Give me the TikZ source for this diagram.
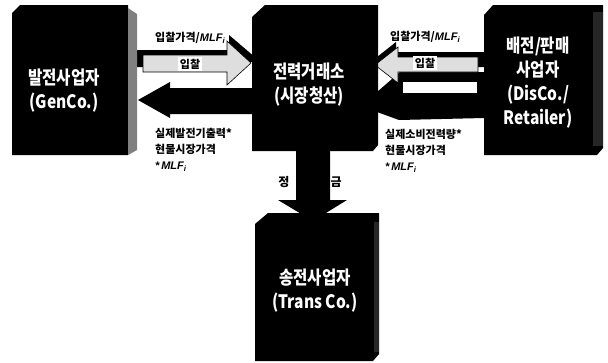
\documentclass[tikz,border=0pt]{standalone}
\usepackage{fontspec}
\setmainfont{Noto Sans CJK KR}
\newfontfamily\boxfont[FakeStretch=0.84]{Noto Sans CJK KR}
\newfontfamily\lat{Liberation Sans}
\newcommand{\mlf}{{\lat\bfseries\itshape MLF\textsubscript{i}}}
\begin{document}
\begin{tikzpicture}[x=1pt,y=-1pt,
  boxtxt/.style={text=white, font=\boxfont\bfseries\fontsize{18.5}{24}\selectfont, align=center, inner sep=0pt},
  lbl/.style={font=\bfseries\fontsize{11}{16}\selectfont, align=left, inner sep=0pt},
  lite/.style={fill=black!13, draw=black, line width=0.6pt, line join=miter},
  shade3d/.style={fill=black, draw=none}]
\useasboundingbox (0,0) rectangle (608,362);

% text under the down arrow
\node[font=\bfseries\fontsize{12}{14}\selectfont, inner sep=0pt] (settle) at (310,182) {정\hspace{15pt}산\hspace{15pt}금};

% down arrow
\fill (296,148) -- (330,148) -- (330,200) -- (347,200) -- (313,221) -- (278,200) -- (296,200) -- cycle;

% left: bid arrow (3D, light) GenCo -> exchange
\fill[shade3d] (136,50) -- (229,50) -- (229,35) -- (256,58) -- (229,81) -- (229,67) -- (136,67) -- cycle;
\draw[lite] (143,55) -- (227,55) -- (227,41) -- (251,63) -- (227,85) -- (227,72) -- (143,72) -- cycle;
% left: payment arrow exchange -> GenCo
\fill (256,88) -- (170,88) -- (170,82) -- (138,100) -- (170,118) -- (170,114) -- (256,114) -- cycle;

% right: payment arrow DisCo -> exchange
\fill (484,72) -- (400,72) -- (377,92) -- (377,112) -- (399,120) -- (484,118) -- cycle;
\fill[white] (403,82) rectangle (477,93);
% right: bid arrow (3D, light) DisCo -> exchange
\fill[shade3d] (484,52) -- (396,52) -- (396,42) -- (372,61) -- (396,78) -- (396,67) -- (484,67) -- cycle;
\draw[lite] (478,57) -- (398,57) -- (398,47) -- (375,65) -- (398,83) -- (398,72) -- (478,72) -- cycle;

% boxes (black blocks with chamfered corners)
\fill (20,5) -- (128,5) -- (128,155) -- (12,155) -- (12,13) -- cycle;
\fill[black!50] (128,8) -- (137,14) -- (137,150) -- (128,155) -- cycle;
\fill (265,5) -- (378,5) -- (378,145) -- (373,151) -- (252,151) -- (252,17) -- cycle;
\fill (493,5) -- (603,5) -- (603,148) -- (597,155) -- (484,155) -- (484,15) -- cycle;
\fill[black!85] (593,12) rectangle (603,146);
\fill (268,213) -- (379,213) -- (379,354) -- (373,361) -- (255,361) -- (255,224) -- cycle;
\fill[black!85] (374,222) rectangle (379,352);

% box texts
\node[boxtxt] (gentxt) at (64,91) {발전사업자\\(GenCo.)};
\node[boxtxt] (kpxtxt) at (309,85) {전력거래소\\(시장청산)};
\node[boxtxt] (discotxt) at (538,83) {배전/판매\\사업자\\(DisCo./\\Retailer)};
\node[boxtxt] (transtxt) at (315,291) {송전사업자\\(Trans Co.)};

% arrow labels
\node[lbl, anchor=west] (bidL) at (155,38) {입찰가격/\mlf};
\node[lbl, anchor=west] (bidR) at (390,37) {입찰가격/\mlf};
\node[lbl, fill=white, inner sep=1.5pt] (bidLin) at (190,64) {입찰};
\node[lbl, fill=white, inner sep=1.5pt] (bidRin) at (425,63) {입찰};
\node[lbl, anchor=north west] (payL) at (155,128.5) {실제발전기출력*\\현물시장가격\\{\lat\bfseries\itshape *}\,\mlf};
\node[lbl, anchor=north west] (payR) at (385,129) {실제소비전력량*\\현물시장가격\\{\lat\bfseries\itshape *}\,\mlf};
\end{tikzpicture}
\end{document}
